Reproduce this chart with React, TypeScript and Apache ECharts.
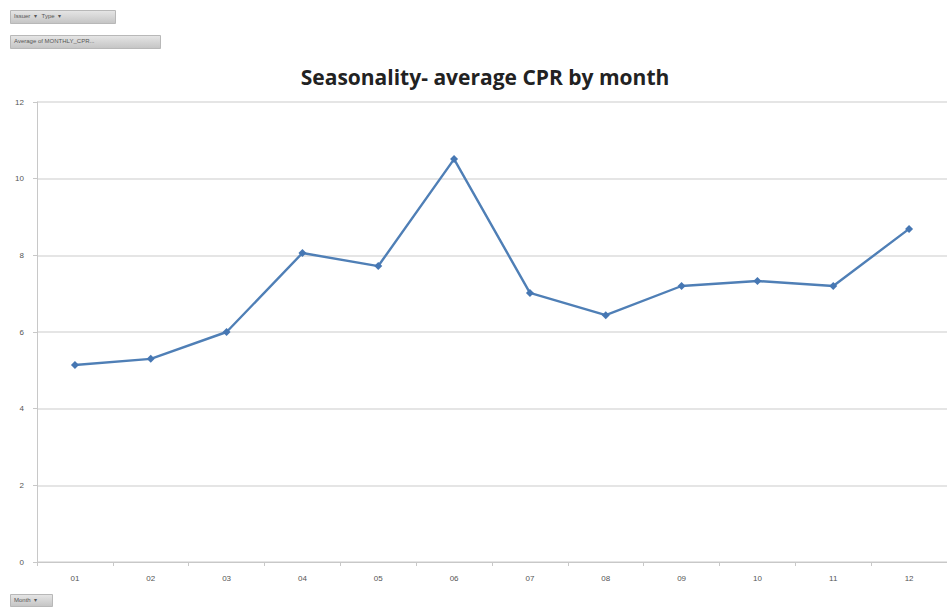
import React, { useEffect, useRef } from "react";
import * as echarts from "echarts";

const months = ["01", "02", "03", "04", "05", "06", "07", "08", "09", "10", "11", "12"];
const avgCpr = [5.14, 5.3, 6.0, 8.06, 7.72, 10.51, 7.02, 6.44, 7.2, 7.33, 7.2, 8.69];
const yTicks = { min: 0, max: 12, interval: 2 };
const titleText = "Seasonality- average CPR by month";

// pivot-chart field buttons
const fieldButtons = [
  { x: 10, y: 10, w: 105, h: 13, text: "Issuer  \u25BE   Type  \u25BE" },
  { x: 10, y: 35, w: 150, h: 13, text: "Average of MONTHLY_CPR..." },
  { x: 10, y: 594, w: 42, h: 12, text: "Month  \u25BE" },
];

export default function App() {
  const ref = useRef<HTMLDivElement>(null);

  useEffect(() => {
    if (!ref.current) return;
    const chart = echarts.init(ref.current, undefined, { renderer: "svg" });

    const graphics: any[] = [];
    fieldButtons.forEach((b) => {
      graphics.push({
        type: "rect",
        left: b.x,
        top: b.y,
        shape: { width: b.w, height: b.h },
        style: {
          fill: new echarts.graphic.LinearGradient(0, 0, 0, 1, [
            { offset: 0, color: "#e6e6e6" },
            { offset: 1, color: "#c4c4c4" },
          ]),
          stroke: "#b8b8b8",
          lineWidth: 1,
        },
      });
      graphics.push({
        type: "text",
        left: b.x + 4,
        top: b.y + 3,
        style: { text: b.text, fill: "#555", font: "6px 'Liberation Sans', sans-serif" },
      });
    });

    chart.setOption({
      animation: false,
      backgroundColor: "#ffffff",
      title: {
        text: titleText,
        left: 480,
        textAlign: "center",
        top: 61,
        textStyle: {
          fontFamily: "'Open Sans', 'DejaVu Sans', sans-serif",
          fontSize: 21,
          fontWeight: "bold",
          color: "#222",
        },
      },
      graphic: graphics,
      grid: { left: 37, width: 918, top: 102, bottom: 45, containLabel: false },
      xAxis: {
        type: "category",
        data: months,
        boundaryGap: true,
        axisLine: { lineStyle: { color: "#c8c8c8", width: 1 } },
        axisTick: { show: true, length: 4, lineStyle: { color: "#c8c8c8" } },
        axisLabel: { color: "#555", fontSize: 8, margin: 12, fontFamily: "'Liberation Sans', sans-serif" },
      },
      yAxis: {
        type: "value",
        min: yTicks.min,
        max: yTicks.max,
        interval: yTicks.interval,
        axisLine: { show: true, lineStyle: { color: "#c8c8c8", width: 1 } },
        axisTick: { show: true, length: 4, lineStyle: { color: "#c8c8c8" } },
        axisLabel: { color: "#555", fontSize: 8, margin: 13, fontFamily: "'Liberation Sans', sans-serif" },
        splitLine: { lineStyle: { color: "#dcdcdc", width: 1.5 } },
      },
      series: [
        {
          type: "line",
          data: avgCpr,
          symbol: "diamond",
          symbolSize: 8,
          lineStyle: { color: "#4f7fb6", width: 2.4 },
          itemStyle: { color: "#4677b3" },
        },
      ],
    });

    return () => chart.dispose();
  }, []);

  return (
    <div
      ref={ref}
      style={{ position: "fixed", left: 0, top: 0, width: 947, height: 607 }}
    />
  );
}
